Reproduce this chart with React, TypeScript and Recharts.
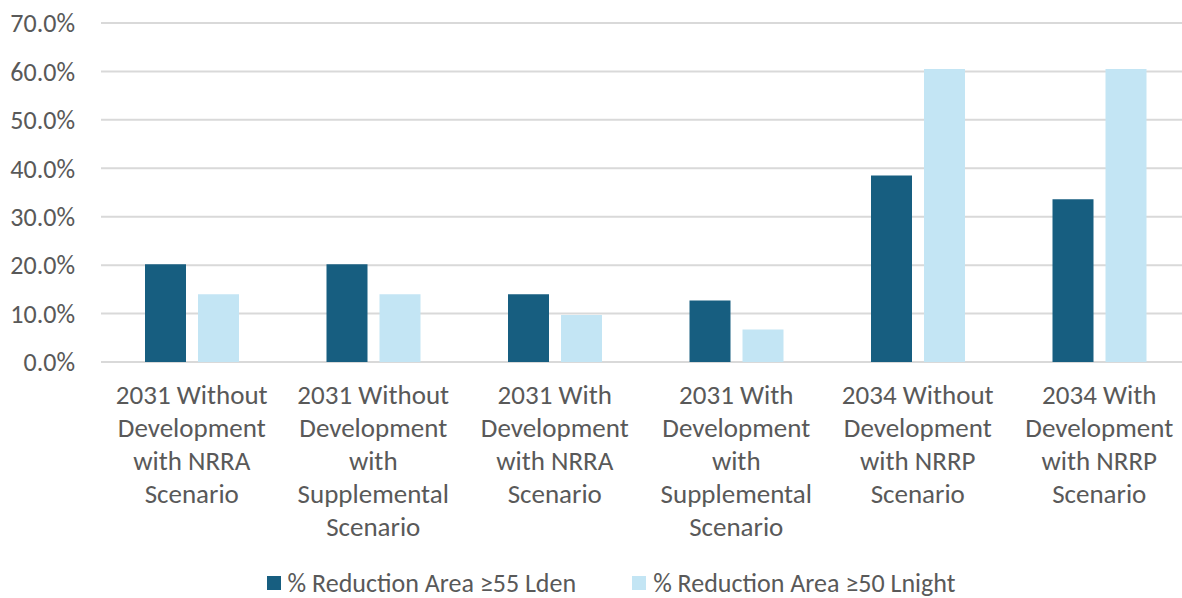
import { Bar, BarChart, CartesianGrid, Legend, XAxis, YAxis } from "recharts";

const DARK = "#175e80";
const LIGHT = "#c3e5f4";
const TEXT = "#595959";
const GRID = "#d9d9d9";
const FONT = "Carlito, Calibri, Lato, sans-serif";

const categories = [
  "2031 Without\nDevelopment\nwith NRRA\nScenario",
  "2031 Without\nDevelopment\nwith\nSupplemental\nScenario",
  "2031 With\nDevelopment\nwith NRRA\nScenario",
  "2031 With\nDevelopment\nwith\nSupplemental\nScenario",
  "2034 Without\nDevelopment\nwith NRRP\nScenario",
  "2034 With\nDevelopment\nwith NRRP\nScenario",
];
const lden = [0.202, 0.202, 0.14, 0.127, 0.385, 0.336];
const lnight = [0.14, 0.14, 0.097, 0.067, 0.605, 0.605];
const yTicks = [0, 0.1, 0.2, 0.3, 0.4, 0.5, 0.6, 0.7];
const seriesNames = ["% Reduction Area ≥55 Lden", "% Reduction Area ≥50 Lnight"];

const data = categories.map((c, i) => ({ name: c, lden: lden[i], lnight: lnight[i] }));

function XTick({ x, y, payload }: any) {
  const lines = String(payload.value).split("\n");
  return (
    <text x={x} y={y} textAnchor="middle" fill={TEXT} fontSize={27} fontFamily={FONT}>
      {lines.map((l, i) => (
        <tspan key={i} x={x} dy={i === 0 ? 34 : 33}>
          {l}
        </tspan>
      ))}
    </text>
  );
}

function LegendBox() {
  const items = [
    { label: seriesNames[0], color: DARK },
    { label: seriesNames[1], color: LIGHT },
  ];
  return (
    <div
      style={{
        height: 44,
        display: "flex",
        justifyContent: "center",
        alignItems: "center",
        paddingTop: 17,
        paddingBottom: 3,
        paddingLeft: 32,
        boxSizing: "border-box",
        gap: 56,
        fontFamily: FONT,
        fontSize: 26,
        lineHeight: "24px",
        color: TEXT,
      }}
    >
      {items.map((it) => (
        <div key={it.label} style={{ display: "flex", alignItems: "center", gap: 7, whiteSpace: "nowrap" }}>
          <span style={{ width: 14, height: 14, background: it.color, display: "inline-block" }} />
          <span>{it.label}</span>
        </div>
      ))}
    </div>
  );
}

export default function App() {
  return (
    <div style={{ position: "absolute", left: 0, top: 0, width: 1182, height: 598, background: "#fff", overflow: "hidden" }}>
      <BarChart
        width={1182}
        height={598}
        data={data}
        margin={{ top: 23, right: -8, left: 0, bottom: 0 }}
        barSize={41}
        barGap={12}
      >
        <CartesianGrid vertical={false} stroke={GRID} strokeWidth={2} />
        <XAxis
          dataKey="name"
          interval={0}
          height={192}
          tickLine={false}
          axisLine={false}
          tick={<XTick />}
        />
        <YAxis
          width={101}
          domain={[0, 0.7]}
          ticks={yTicks}
          tickLine={false}
          axisLine={false}
          tickMargin={20}
          tick={{ fill: TEXT, fontSize: 26, fontFamily: FONT }}
          tickFormatter={(v) => (v * 100).toFixed(1) + "%"}
        />
        <Legend verticalAlign="bottom" height={44} content={<LegendBox />} />
        <Bar dataKey="lden" name={seriesNames[0]} fill={DARK} isAnimationActive={false} />
        <Bar dataKey="lnight" name={seriesNames[1]} fill={LIGHT} isAnimationActive={false} />
      </BarChart>
    </div>
  );
}
